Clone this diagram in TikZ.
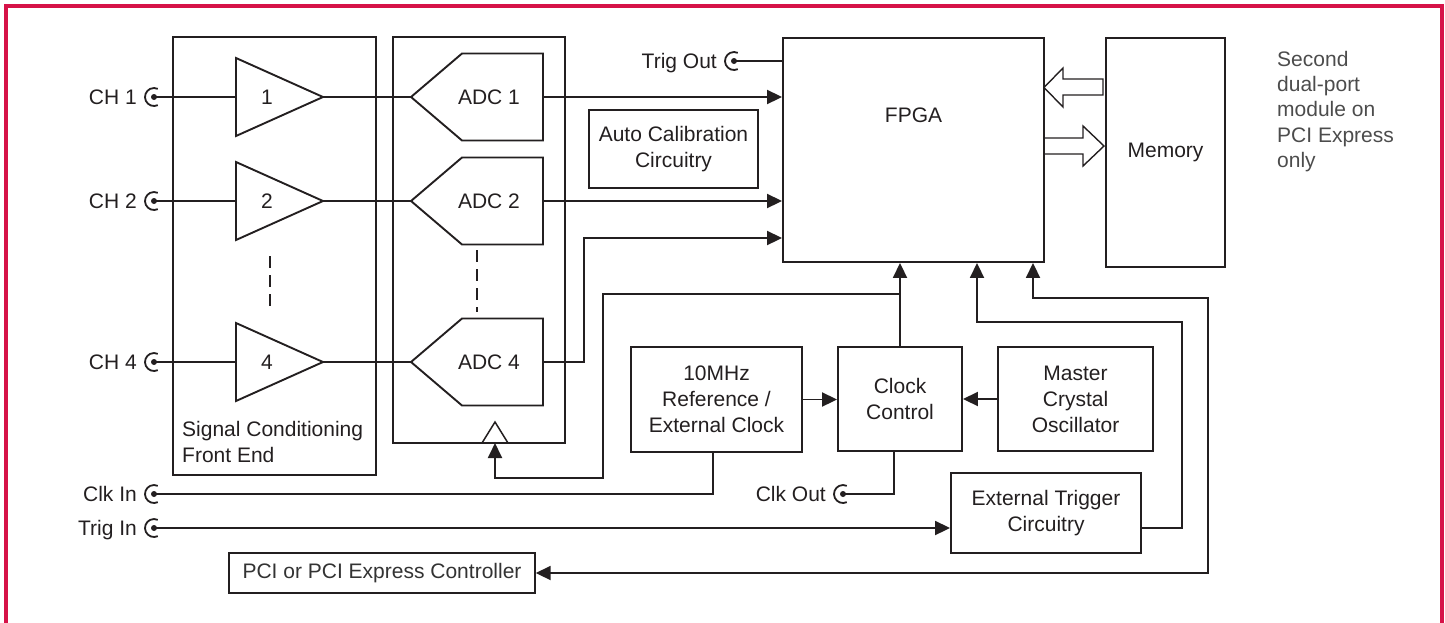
\documentclass[tikz,border=0pt]{standalone}
\usepackage{fontspec}
\setmainfont{Liberation Sans}
\usetikzlibrary{arrows.meta,calc}
\definecolor{frame}{RGB}{214,18,72}
\definecolor{ink}{RGB}{35,31,32}
\newcommand\fs{\fontsize{21}{26}\selectfont}
\newcommand\jack[4]{%
  \coordinate (#1) at (#2,#3);
  \fill[ink] (#1) circle[radius=3pt];
  \draw[ink, line width=1.8pt] (#1) ++(65:9) arc[start angle=65,end angle=295,radius=9];
  \node[anchor=base east] (#1l) at ([xshift=-17pt,yshift=-7.5pt]#1) {#4};
}
\newcommand\amp[3]{%
  \coordinate (#1in) at (236,#2); \coordinate (#1out) at (323,#2);
  \draw[ink, line width=1.9pt, line join=miter] (236,{#2-39}) -- (#1out) -- (236,{#2+39}) -- cycle;
  \node (#1n) at (267,#2) {#3};
}
\newcommand\adc[3]{%
  \coordinate (#1in) at (411,#2); \coordinate (#1out) at (543,#2);
  \draw[ink, line width=1.9pt] (#1in) -- (462,{#2-43.5}) -- (543,{#2-43.5}) -- (543,{#2+43.5}) -- (462,{#2+43.5}) -- cycle;
  \node (#1n) at (489,#2) {#3};
}
\begin{document}
\begin{tikzpicture}[x=1pt,y=-1pt,
  every node/.style={font=\fs, text=ink, inner sep=0pt},
  wire/.style={draw=ink, line width=1.9pt},
  arr/.style={wire, -{Triangle[length=15pt,width=14pt]}},
  blk/.style={draw=ink, line width=1.9pt, align=center}]
\useasboundingbox (0,0) rectangle (1445,622);
\draw[frame, line width=4pt] (6,624) -- (6,6) -- (1442,6) -- (1442,624);

% boxes
\node[blk, minimum width=203pt, minimum height=438pt] (scf) at (274.5,256) {};
\node[anchor=north west, align=left] (scft) at (182,421) {Signal Conditioning\\Front End};
\node[blk, minimum width=172pt, minimum height=406pt] (adcb) at (479,240) {};
\node[blk, minimum width=261pt, minimum height=224pt] (fpga) at (913.5,150) {};
\node (fpgat) at (913.5,115) {FPGA};
\node[blk, minimum width=119pt, minimum height=229pt] (mem) at (1165.5,152.5) {Memory};
\node[blk, minimum width=169pt, minimum height=78pt] (acal) at (673.5,149) {Auto Calibration\\Circuitry};
\node[blk, minimum width=171pt, minimum height=105pt] (ref) at (716.5,399.5) {10MHz\\Reference /\\External Clock};
\node[blk, minimum width=124pt, minimum height=104pt] (cc) at (900,399) {Clock\\Control};
\node[blk, minimum width=155pt, minimum height=104pt] (mco) at (1075.5,399) {Master\\Crystal\\Oscillator};
\node[blk, minimum width=190pt, minimum height=80pt] (etc) at (1046,513) {External Trigger\\Circuitry};
\node[blk, line width=1.4pt, minimum width=306pt, minimum height=40pt, text=black!80] (pci) at (382,573) {PCI or PCI Express Controller};
\node[anchor=north west, align=left, text=black!70, font=\fontsize{21}{25.2}\selectfont] (note) at (1277,51) {Second\\dual-port\\module on\\PCI Express\\only};

% amplifiers and ADCs
\amp{a1}{97}{1}
\amp{a2}{201}{2}
\amp{a4}{362}{4}
\adc{adc1}{97}{ADC 1}
\adc{adc2}{201}{ADC 2}
\adc{adc4}{362}{ADC 4}
\draw[ink, line width=1.9pt, dash pattern=on 12pt off 7pt] (270,256) -- (270,312);
\draw[ink, line width=1.9pt, dash pattern=on 12pt off 7pt] (477,250) -- (477,312);

% input jacks
\jack{ch1}{154}{97}{CH 1}
\jack{ch2}{154}{201}{CH 2}
\jack{ch4}{154}{362}{CH 4}
\jack{clkin}{154}{494}{Clk In}
\jack{tin}{154}{528}{Trig In}
\jack{tout}{734}{61}{Trig Out}
\jack{clkout}{843}{494}{Clk Out}

\draw[wire] (ch1) -- (a1in);
\draw[wire] (ch2) -- (a2in);
\draw[wire] (ch4) -- (a4in);
\draw[wire] (a1out) -- (adc1in);
\draw[wire] (a2out) -- (adc2in);
\draw[wire] (a4out) -- (adc4in);

% ADC outputs
\draw[arr] (adc1out) -- (adc1out -| fpga.west);
\draw[arr] (adc2out) -- (adc2out -| fpga.west);
\coordinate (j4) at (584,238);
\draw[arr] (adc4out) -| (j4) -- (j4 -| fpga.west);
\draw[wire] (tout) -- (tout -| fpga.west);

% memory bus arrows
\draw[ink, line width=1.4pt, line join=miter] (1044,87.5) -- (1063,68) -- (1063,79) -- (1103,79) -- (1103,95) -- (1063,95) -- (1063,107) -- cycle;
\draw[ink, line width=1.4pt, line join=miter] (1044,138) -- (1083,138) -- (1083,126) -- (1104,146) -- (1083,166) -- (1083,154) -- (1044,154);

% clock section
\draw[arr] (ref.east) -- (ref.east -| cc.west);
\draw[arr] (mco.west) -- (cc.east);
\draw[arr] (cc.north) -- (cc.north |- fpga.south);
\coordinate (jc) at (900,294);
\coordinate (tri) at (495,443);
\draw[ink, line width=1.5pt, line join=miter] (482,443) -- (495,422) -- (508,443);
\draw[arr] (jc) -- (603,294) -- (603,478) -- (495,478) -- (tri);
\draw[wire] (clkin) -| ([xshift=-3.5pt]ref.south);
\draw[wire] ([xshift=-6pt]cc.south) |- (clkout);

% trigger and PCI
\draw[arr] (tin) -- (tin -| etc.west);
\coordinate (e1) at (1182,322);
\draw[arr] (etc.east |- tin) -| (e1) -| ([xshift=63.5pt]fpga.south);
\coordinate (p1) at (1208,298);
\draw[wire, {Triangle[length=15pt,width=14pt]}-{Triangle[length=15pt,width=14pt]}] ([xshift=119.5pt]fpga.south) |- (p1) |- (pci.east);
\end{tikzpicture}
\end{document}
